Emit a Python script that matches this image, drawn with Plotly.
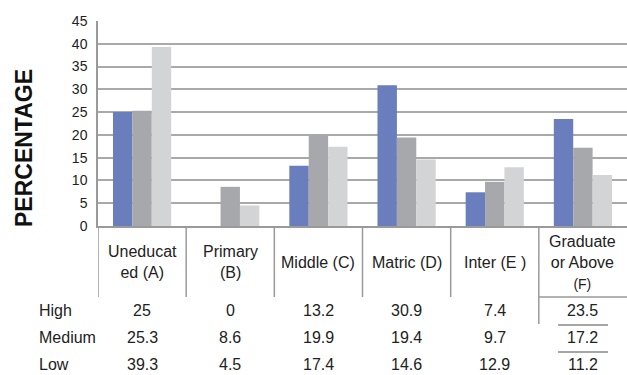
import plotly.graph_objects as go

categories = ["Uneducat<br>ed (A)", "Primary<br>(B)", "Middle (C)", "Matric (D)", "Inter (E )",
              "Graduate<br>or Above<br><span style='font-size:14px'>(F)</span>"]
series_names = ["High", "Medium", "Low"]
high = [25, 0, 13.2, 30.9, 7.4, 23.5]
medium = [25.3, 8.6, 19.9, 19.4, 9.7, 17.2]
low = [39.3, 4.5, 17.4, 14.6, 12.9, 11.2]
colors = ["#6a7dbd", "#a7a8ab", "#d3d4d6"]

W, H = 627, 375
L, R, T, B = 98, 0, 21, 149
PW, PH = W - L - R, H - T - B

def py(y):
    return (H - B - y) / PH

def pxx(x):
    return (x - L) / PW

idx = list(range(len(categories)))
fig = go.Figure()
for name, vals, c in zip(series_names, [high, medium, low], colors):
    fig.add_trace(go.Bar(x=idx, y=vals, name=name, marker=dict(color=c, line=dict(width=0))))

font_fam = "Liberation Sans, Arial, sans-serif"
txt = "#222222"
ann = []
# y axis title
ann.append(dict(text="<b>PERCENTAGE</b>", textangle=-90, x=pxx(24), y=py(148), xref="paper", yref="paper",
                showarrow=False, font=dict(size=23, color="#111111", family=font_fam), xanchor="center", yanchor="middle"))
# category headers
for i, cat in enumerate(categories):
    ann.append(dict(text=cat, x=i, y=py(262), xref="x", yref="paper", showarrow=False,
                    font=dict(size=16, color=txt, family=font_fam), xanchor="center", yanchor="middle"))
# table rows
row_y = [310, 337, 364]
for name, vals, ry in zip(series_names, [high, medium, low], row_y):
    ann.append(dict(text=name, x=pxx(37), y=py(ry), xref="paper", yref="paper", showarrow=False,
                    font=dict(size=16, color=txt, family=font_fam), xanchor="left", yanchor="middle"))
    for i, v in enumerate(vals):
        ann.append(dict(text=f"{v:g}", x=i, y=py(ry), xref="x", yref="paper", showarrow=False,
                        font=dict(size=16, color=txt, family=font_fam), xanchor="center", yanchor="middle"))

shapes = []
line_c = "#9a9a9a"
# vertical separators in header area
shapes.append(dict(type="line", xref="x", yref="paper", x0=-0.5, x1=-0.5, y0=0, y1=py(297),
                   line=dict(color=line_c, width=1.5)))
for b in range(1, len(categories)):
    y_end = 324 if b == 5 else 297
    shapes.append(dict(type="line", xref="x", yref="paper", x0=b - 0.5, x1=b - 0.5, y0=0, y1=py(y_end),
                       line=dict(color=line_c, width=1.5)))
# odd lines around the last column
shapes.append(dict(type="line", xref="x", yref="paper", x0=4.5, x1=5.5, y0=py(297), y1=py(297),
                   line=dict(color=line_c, width=1.5)))
for yy in [325, 352]:
    shapes.append(dict(type="line", xref="paper", yref="paper", x0=pxx(558), x1=pxx(608), y0=py(yy), y1=py(yy),
                       line=dict(color="#888888", width=1.5)))

fig.update_layout(
    width=W, height=H, margin=dict(l=L, r=R, t=T, b=B, pad=0),
    paper_bgcolor="white", plot_bgcolor="white",
    barmode="group", bargap=0.34, bargroupgap=0,
    showlegend=False,
    annotations=ann, shapes=shapes,
    font=dict(family=font_fam, color=txt),
)
fig.update_xaxes(range=[-0.5, 5.5], showticklabels=False, showgrid=False, zeroline=False,
                 showline=True, linecolor=line_c, linewidth=2, ticks="")
fig.update_yaxes(range=[0, 45], dtick=5, tick0=0, showgrid=True, gridcolor="#a9a9a9", gridwidth=1.6,
                 zeroline=False, showline=True, linecolor=line_c, linewidth=1.5, ticks="",
                 ticklabelstandoff=6, tickfont=dict(size=14, color=txt, family=font_fam))

fig.write_html("out.html")
